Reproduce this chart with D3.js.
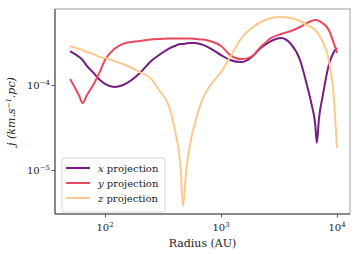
<!DOCTYPE html>
<html>
<head>
<meta charset="utf-8">
<script src="https://cdn.jsdelivr.net/npm/d3@7"></script>
<style>
  body { margin: 0; background: #fff; }
</style>
</head>
<body>
<div id="chart"></div>
<script>
// angular momentum profile j(R) for three projections

var width = 355,
    height = 254;

var margin = {top: 9, right: 5, bottom: 40, left: 55};
var serif = "'DejaVu Serif', 'Liberation Serif', serif";

// radius in AU (shared by all series)
var radius = [50, 60, 64, 70, 80, 90, 100, 120, 150, 200, 250, 300, 350, 400, 450, 470, 500,
              550, 600, 700, 800, 1000, 1200, 1500, 1800, 2200, 2700, 3300, 4000, 4800, 5500,
              6000, 6500, 6700, 7000, 7500, 8500, 9300, 10000];

// j values, units of 1e-4 km/s pc
var xProj = [2.51, 2.13, 1.97, 1.67, 1.38, 1.15, 1.03, 0.947, 1.03, 1.38, 1.92, 2.31, 2.65, 2.88,
             3.04, 3.04, 3.08, 3.12, 3.12, 2.96, 2.72, 2.25, 1.97, 1.86, 2.08, 2.72, 3.29, 3.57,
             3.04, 1.97, 1.00, 0.614, 0.338, 0.208, 0.409, 0.722, 1.72, 2.38, 2.72];
var yProj = [1.18, 0.743, 0.614, 0.763, 1.03, 1.42, 1.97, 2.65, 3.12, 3.29, 3.43, 3.48, 3.52, 3.52,
             3.52, 3.52, 3.52, 3.52, 3.48, 3.43, 3.29, 2.88, 2.25, 2.02, 2.13, 2.80, 3.57, 3.98,
             4.32, 4.81, 5.36, 5.66, 5.82, 5.82, 5.66, 5.36, 4.44, 3.21, 2.38];
var zProj = [2.88, 2.65, 2.58, 2.44, 2.31, 2.13, 2.08, 1.92, 1.72, 1.42, 1.18, 0.827, 0.598, 0.296,
             0.100, 0.0377, 0.0947, 0.225, 0.367, 0.703, 0.973, 1.42, 2.13, 3.57, 4.56, 5.51, 6.14,
             6.31, 6.14, 5.66, 5.08, 4.81, 4.44, 4.20, 3.87, 3.29, 1.97, 0.827, 0.181];

var seriesNames = ["x", "y", "z"];
var seriesColors = ["#721f81", "#e8495e", "#fec98d"];

var xTicks = [2, 3, 4];     // powers of ten
var yTicks = [-5, -4];

var svg = d3.select("#chart").append("svg")
    .attr("width", width)
    .attr("height", height)
    .attr("font-family", serif);

var x = d3.scaleLog()
    .domain([37.07, 12944])
    .range([margin.left, width - margin.right]);

var y = d3.scaleLog()
    .domain([3.036e-6, 7.835e-4])
    .range([height - margin.bottom, margin.top]);

// minor ticks 2..9 per decade
function minors(lo, hi) {
  var out = [];
  for (var p = lo; p <= hi; p++) {
    for (var k = 2; k <= 9; k++) out.push(k * Math.pow(10, p));
  }
  return out;
}

var xMinor = minors(1, 4).filter(function(v) { return v > x.domain()[0] && v < x.domain()[1]; });
var yMinor = minors(-6, -4).filter(function(v) { return v > y.domain()[0] && v < y.domain()[1]; });

var gx = svg.append("g")
    .attr("transform", "translate(0," + (height - margin.bottom) + ")");
gx.call(d3.axisBottom(x).tickValues(xMinor).tickSize(2).tickFormat(""));
gx.call(d3.axisBottom(x).tickValues(xTicks.map(function(p) { return Math.pow(10, p); }))
    .tickSize(3.5).tickFormat(""));
gx.selectAll(".domain").remove();
gx.selectAll("line").attr("stroke", "#333").attr("stroke-width", 0.8);

var gy = svg.append("g")
    .attr("transform", "translate(" + margin.left + ",0)");
gy.call(d3.axisLeft(y).tickValues(yMinor).tickSize(2).tickFormat(""));
gy.call(d3.axisLeft(y).tickValues(yTicks.map(function(p) { return Math.pow(10, p); }))
    .tickSize(3.5).tickFormat(""));
gy.selectAll(".domain").remove();
gy.selectAll("line").attr("stroke", "#333").attr("stroke-width", 0.8);

// tick labels 10^n
xTicks.forEach(function(p) {
  var t = svg.append("text")
      .attr("x", x(Math.pow(10, p)))
      .attr("y", height - margin.bottom + 17)
      .attr("text-anchor", "middle")
      .attr("fill", "#222")
      .style("font-family", serif)
      .style("font-size", "10px");
  t.append("tspan").text("10");
  t.append("tspan").attr("dy", -4).style("font-size", "7px").text(p);
});

yTicks.forEach(function(p) {
  var t = svg.append("text")
      .attr("x", margin.left - 5)
      .attr("y", y(Math.pow(10, p)) + 4)
      .attr("text-anchor", "end")
      .attr("fill", "#222")
      .style("font-family", serif)
      .style("font-size", "10px");
  t.append("tspan").text("10");
  t.append("tspan").attr("dy", -4).style("font-size", "7px").text("\u2212" + (-p));
});

// frame
svg.append("rect")
    .attr("x", margin.left)
    .attr("y", margin.top)
    .attr("width", width - margin.left - margin.right)
    .attr("height", height - margin.top - margin.bottom)
    .attr("fill", "none")
    .attr("stroke", "#888")
    .attr("stroke-width", 0.8);
svg.append("path")
    .attr("d", "M" + margin.left + "," + margin.top + "V" + (height - margin.bottom) + "H" + (width - margin.right))
    .attr("fill", "none")
    .attr("stroke", "#333")
    .attr("stroke-width", 0.9);

// lines
var line = d3.line()
    .x(function(d) { return x(d[0]); })
    .y(function(d) { return y(d[1]); })
    .curve(d3.curveMonotoneX);

[xProj, yProj, zProj].forEach(function(vals, i) {
  var pts = radius.map(function(r, k) { return [r, vals[k] * 1e-4]; });
  svg.append("path")
      .datum(pts)
      .attr("fill", "none")
      .attr("stroke", seriesColors[i])
      .attr("stroke-width", 2)
      .attr("stroke-linejoin", "round")
      .attr("d", line);
});

// axis labels
svg.append("text")
    .attr("x", (margin.left + width - margin.right) / 2)
    .attr("y", height - 7)
    .attr("text-anchor", "middle")
    .attr("fill", "#222")
    .style("font-family", serif)
    .style("font-size", "11px")
    .text("Radius (AU)");

var yl = svg.append("text")
    .attr("transform", "translate(15," + ((margin.top + height - margin.bottom) / 2) + ") rotate(-90)")
    .attr("text-anchor", "middle")
    .attr("fill", "#222")
    .style("font-family", serif)
    .style("font-size", "11px")
    .style("font-style", "italic");
yl.append("tspan").text("j (km.s");
yl.append("tspan").attr("dy", -4).style("font-size", "7px").text("\u22121");
yl.append("tspan").attr("dy", 4).text(".pc)");

// legend
var lg = svg.append("g").attr("transform", "translate(62,158)");
lg.append("rect")
    .attr("width", 103)
    .attr("height", 54)
    .attr("rx", 2)
    .attr("fill", "#fff")
    .attr("fill-opacity", 0.8)
    .attr("stroke", "#ccc")
    .attr("stroke-width", 0.8);

seriesNames.forEach(function(n, i) {
  var yy = 10 + i * 15;
  lg.append("line")
      .attr("x1", 4).attr("x2", 28)
      .attr("y1", yy).attr("y2", yy)
      .attr("stroke", seriesColors[i])
      .attr("stroke-width", 2);
  var t = lg.append("text")
      .attr("x", 36)
      .attr("y", yy + 3.5)
      .attr("fill", "#222")
      .style("font-family", serif)
      .style("font-size", "10px");
  t.append("tspan").style("font-style", "italic").text(n);
  t.append("tspan").text(" projection");
});
</script>
</body>
</html>
